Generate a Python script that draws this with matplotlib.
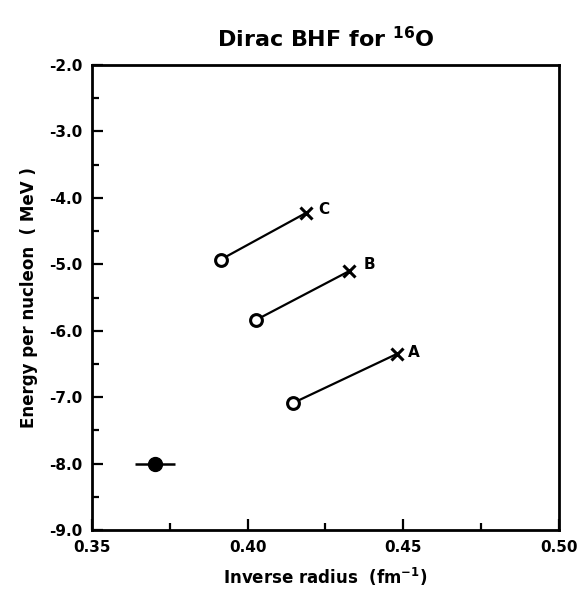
import matplotlib
matplotlib.use("Agg")
import matplotlib.pyplot as plt
from matplotlib.ticker import MultipleLocator, FixedLocator

# Data
series_labels = ["A", "B", "C"]
circle_x = [0.4145, 0.4026, 0.3913]
circle_y = [-7.09, -5.84, -4.93]
cross_x = [0.4479, 0.4327, 0.4186]
cross_y = [-6.35, -5.10, -4.23]
exp_x = [0.3702]
exp_y = [-8.0]
exp_xerr = [0.0065]

xticks = [0.35, 0.40, 0.45, 0.50]
xticklabels = ["0.35", "0.40", "0.45", "0.50"]
yticks = [-2.0, -3.0, -4.0, -5.0, -6.0, -7.0, -8.0, -9.0]
yticklabels = ["-2.0", "-3.0", "-4.0", "-5.0", "-6.0", "-7.0", "-8.0", "-9.0"]

plt.rcParams['font.family'] = ['DejaVu Sans']
fig = plt.figure(figsize=(5.8, 5.9), dpi=100)
ax = fig.add_axes([0.1586, 0.1017, 0.805, 0.788])

for i in range(len(series_labels)):
    ax.plot([circle_x[i], cross_x[i]], [circle_y[i], cross_y[i]], color='black', lw=1.6, zorder=1)
ax.plot(circle_x, circle_y, linestyle='none', marker='o', ms=8.5, mfc='white', mec='black', mew=2.2, zorder=3)
ax.plot(cross_x, cross_y, linestyle='none', marker='x', ms=8, mec='black', mew=2.2, zorder=3)

offsets = {"A": (8, 1), "B": (10, 5), "C": (9, 3)}
for i, lab in enumerate(series_labels):
    ax.annotate(lab, (cross_x[i], cross_y[i]), xytext=offsets[lab], textcoords='offset points',
                fontsize=11, fontweight='bold', ha='left', va='center')

ax.errorbar(exp_x, exp_y, xerr=exp_xerr, fmt='o', color='black', ms=10, elinewidth=1.8, capsize=0, zorder=4)

ax.set_xlim(0.35, 0.50)
ax.set_ylim(-9.0, -2.0)
ax.xaxis.set_major_locator(FixedLocator(xticks))
ax.set_xticklabels(xticklabels)
ax.xaxis.set_minor_locator(MultipleLocator(0.025))
ax.yaxis.set_major_locator(FixedLocator(yticks))
ax.set_yticklabels(yticklabels)
ax.yaxis.set_minor_locator(MultipleLocator(0.5))

ax.tick_params(which='both', direction='in', top=False, right=False, width=1.6)
ax.tick_params(which='major', length=8, labelsize=11, pad=7)
ax.tick_params(which='minor', length=5)
for lbl in ax.get_xticklabels() + ax.get_yticklabels():
    lbl.set_fontweight('bold')
for s in ax.spines.values():
    s.set_linewidth(2.0)

ax.set_xlabel("Inverse radius  (fm$^{\\mathbf{-1}}$)", fontsize=12, fontweight='bold', labelpad=8)
ax.set_ylabel("Energy per nucleon  ( MeV )", fontsize=12, fontweight='bold', labelpad=8)
fig.text(0.561, 0.935, "Dirac BHF for $^{\\mathbf{16}}$O", fontsize=16, fontweight='bold', ha='center', va='center')

fig.savefig("out.png", dpi=100)
